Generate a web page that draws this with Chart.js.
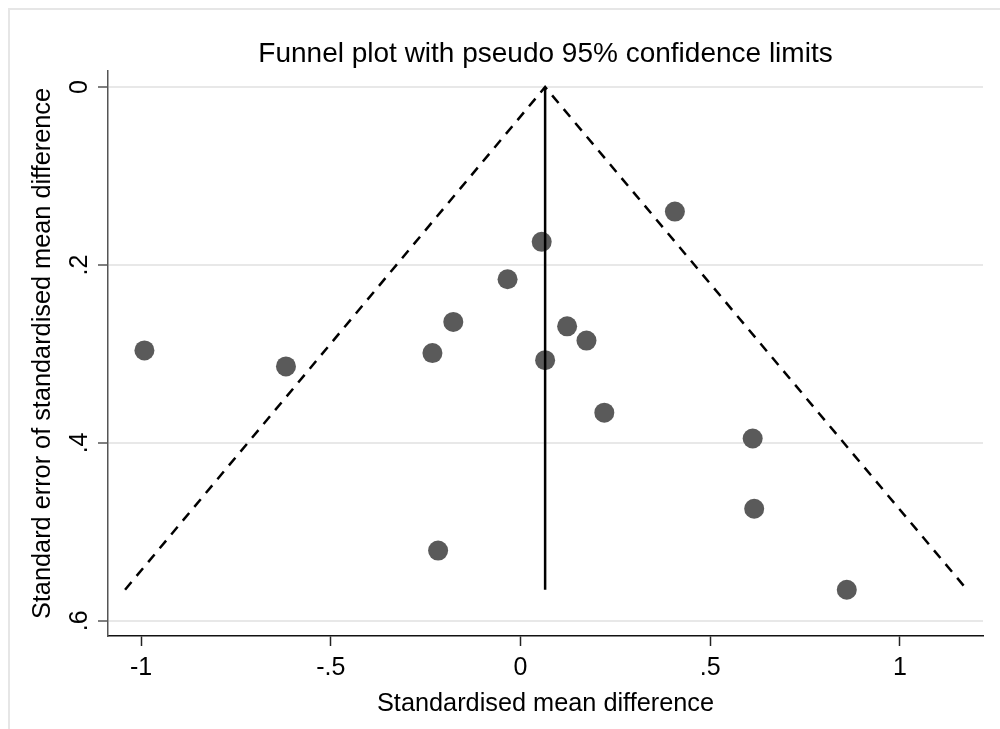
<!DOCTYPE html>
<html>
<head>
<meta charset="utf-8">
<script src="https://cdn.jsdelivr.net/npm/chart.js@4.4.1/dist/chart.umd.min.js"></script>
<style>
  html, body { margin: 0; padding: 0; background: #fff; }
  #wrap { width: 1000px; height: 729px; }
</style>
</head>
<body>
<div id="wrap"><canvas id="funnel" width="1000" height="729"></canvas></div>
<script>
// study estimates
const effectSize = [-0.991, -0.618, -0.232, -0.177, -0.034, 0.056, 0.065, 0.123, 0.174, 0.221, 0.407, 0.612, 0.616, -0.217, 0.860];
const stdError   = [0.296, 0.314, 0.299, 0.264, 0.216, 0.174, 0.307, 0.269, 0.285, 0.366, 0.140, 0.395, 0.474, 0.521, 0.565];

// pooled estimate line and pseudo 95% limits
const pooledX = [0.065, 0.065];
const pooledY = [0, 0.565];
const limitX = [-1.042, 0.065, 1.177];
const limitY = [0.565, 0, 0.565];

const xTicks = [-1, -0.5, 0, 0.5, 1];
const yTicks = [0, 0.2, 0.4, 0.6];

const titleText = 'Funnel plot with pseudo 95% confidence limits';
const xTitle = 'Standardised mean difference';
const yTitle = 'Standard error of standardised mean difference';

const FONT = '"Liberation Sans", Arial, Helvetica, sans-serif';

// stata style labels: -.5, .2 etc
function fmt(v) {
  return String(v).replace('0.', '.');
}

const toPts = (xs, ys) => xs.map((x, i) => ({ x: x, y: ys[i] }));

const stataText = {
  id: 'stataText',
  beforeDraw(chart) {
    const ctx = chart.ctx;
    ctx.save();
    ctx.strokeStyle = '#e6e6e6';
    ctx.lineWidth = 2;
    ctx.strokeRect(9, 9, 2000, 2000);
    ctx.restore();
  },
  afterDraw(chart) {
    const { ctx, chartArea } = chart;
    const xs = chart.scales.x, ys = chart.scales.y;
    const cx = (chartArea.left + chartArea.right) / 2;
    const cy = (chartArea.top + chartArea.bottom) / 2;
    ctx.save();
    ctx.fillStyle = '#000';
    ctx.textAlign = 'center';
    ctx.textBaseline = 'alphabetic';

    ctx.font = '25px ' + FONT;
    xTicks.forEach(v => ctx.fillText(fmt(v), xs.getPixelForValue(v), 675));
    ctx.font = '25.3px ' + FONT;
    ctx.fillText(xTitle, cx, 711);

    ctx.font = '25px ' + FONT;
    yTicks.forEach(v => {
      ctx.save();
      ctx.translate(87, ys.getPixelForValue(v));
      ctx.rotate(-Math.PI / 2);
      ctx.fillText(fmt(v), 0, 0);
      ctx.restore();
    });

    ctx.save();
    ctx.font = '25.3px ' + FONT;
    ctx.translate(50, cy);
    ctx.rotate(-Math.PI / 2);
    ctx.fillText(yTitle, 0, 0);
    ctx.restore();

    ctx.font = '28px ' + FONT;
    ctx.fillText(titleText, cx, 62);
    ctx.restore();
  }
};

const ctx = document.getElementById('funnel').getContext('2d');
const funnelChart = new Chart(ctx, {
  type: 'scatter',
  data: {
    datasets: [
      {
        label: 'limits',
        data: toPts(limitX, limitY),
        showLine: true,
        borderColor: '#000',
        borderWidth: 2.5,
        borderDash: [10, 8],
        pointRadius: 0,
        fill: false
      },
      {
        label: 'pooled',
        data: toPts(pooledX, pooledY),
        showLine: true,
        borderColor: '#000',
        borderWidth: 2.5,
        pointRadius: 0,
        fill: false
      },
      {
        label: 'studies',
        data: toPts(effectSize, stdError),
        pointRadius: 10,
        pointHoverRadius: 10,
        backgroundColor: '#5a5a5a',
        borderWidth: 0
      }
    ]
  },
  options: {
    responsive: false,
    animation: false,
    devicePixelRatio: 1,
    layout: { padding: { top: 71, right: 17, bottom: 0, left: 0 } },
    plugins: {
      legend: { display: false },
      tooltip: { enabled: false },
      title: { display: false }
    },
    scales: {
      x: {
        type: 'linear',
        min: -1.087,
        max: 1.219,
        afterBuildTicks: s => { s.ticks = xTicks.map(v => ({ value: v })); },
        afterFit: s => { s.height = 93; },
        ticks: { display: false },
        grid: {
          drawOnChartArea: false,
          drawTicks: true,
          tickLength: 10,
          tickColor: '#222',
          tickWidth: 1.5
        },
        border: { display: true, color: '#111', width: 1.5 }
      },
      y: {
        type: 'linear',
        reverse: true,
        min: -0.018,
        max: 0.617,
        afterBuildTicks: s => { s.ticks = yTicks.map(v => ({ value: v })); },
        afterFit: s => { s.width = 108; },
        ticks: { display: false },
        grid: {
          color: '#e8e8e8',
          lineWidth: 2,
          drawTicks: true,
          tickLength: 10,
          tickColor: '#555',
          tickWidth: 1.5
        },
        border: { display: true, color: '#555', width: 1.5 }
      }
    }
  },
  plugins: [stataText]
});
</script>
</body>
</html>
